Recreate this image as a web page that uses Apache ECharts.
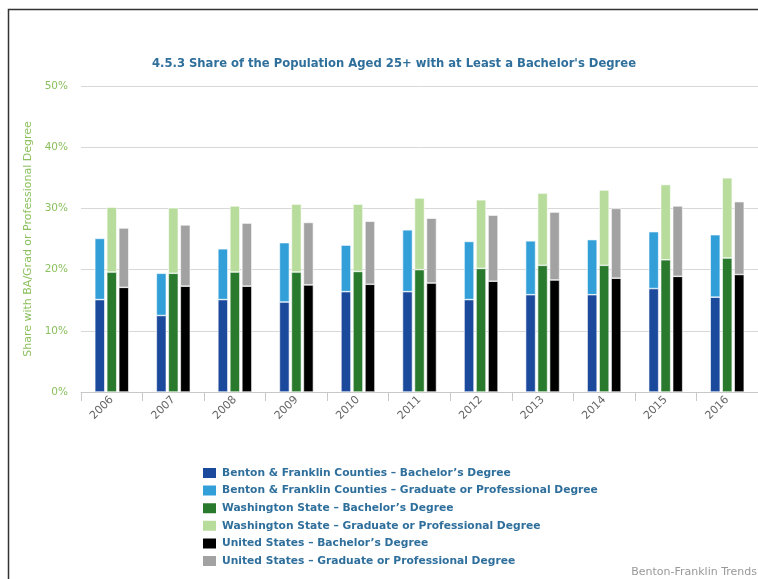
<!DOCTYPE html>
<html>
<head>
<meta charset="utf-8">
<script src="https://cdn.jsdelivr.net/npm/echarts@6/dist/echarts.min.js"></script>
<style>html,body{margin:0;padding:0;background:#fff}#c{width:758px;height:579px}</style>
</head>
<body>
<div id="c"></div>
<script>
var years = ['2006','2007','2008','2009','2010','2011','2012','2013','2014','2015','2016'];
var yTicks = [0, 10, 20, 30, 40, 50];
var bfBachelor = [15.1, 12.5, 15.1, 14.7, 16.4, 16.4, 15.1, 15.9, 15.9, 16.9, 15.5];
var bfGrad     = [10.0, 6.9, 8.3, 9.7, 7.6, 10.1, 9.5, 8.8, 9.0, 9.3, 10.2];
var waBachelor = [19.6, 19.4, 19.6, 19.6, 19.7, 20.0, 20.2, 20.7, 20.7, 21.6, 21.9];
var waGrad     = [10.6, 10.7, 10.8, 11.1, 11.0, 11.7, 11.2, 11.8, 12.3, 12.3, 13.1];
var usBachelor = [17.1, 17.3, 17.3, 17.5, 17.6, 17.8, 18.1, 18.3, 18.6, 18.9, 19.2];
var usGrad     = [9.7, 10.0, 10.3, 10.2, 10.3, 10.6, 10.8, 11.1, 11.4, 11.5, 11.9];
var seriesNames = [
  'Benton & Franklin Counties – Bachelor\u2019s Degree',
  'Benton & Franklin Counties – Graduate or Professional Degree',
  'Washington State – Bachelor\u2019s Degree',
  'Washington State – Graduate or Professional Degree',
  'United States – Bachelor\u2019s Degree',
  'United States – Graduate or Professional Degree'
];
var seriesColors = ['#1b4a9c', '#339fd9', '#2a7a2e', '#b8dc9c', '#000000', '#a2a2a2'];
var seriesData = [bfBachelor, bfGrad, waBachelor, waGrad, usBachelor, usGrad];
var stacks = ['bf', 'bf', 'wa', 'wa', 'us', 'us'];

var FONT = 'DejaVu Sans';
var chart = echarts.init(document.getElementById('c'), null, {renderer: 'canvas'});
var series = seriesData.map(function (d, i) {
  return {
    name: seriesNames[i],
    type: 'bar',
    stack: stacks[i],
    data: d,
    barWidth: 10,
    barGap: '20%',
    itemStyle: {color: seriesColors[i], borderColor: '#ffffff', borderWidth: 0.6},
    emphasis: {disabled: true}
  };
});
chart.setOption({
  animation: false,
  backgroundColor: '#ffffff',
  textStyle: {fontFamily: FONT},
  title: {
    text: '4.5.3 Share of the Population Aged 25+ with at Least a Bachelor\'s Degree',
    left: 389, textAlign: 'center', top: 53,
    textStyle: {fontFamily: FONT, fontSize: 11.6, fontWeight: 'bold', color: '#2f6f9c'}
  },
  grid: {left: 81, top: 86, width: 679, height: 306, containLabel: false},
  xAxis: {
    type: 'category',
    data: years,
    axisLine: {lineStyle: {color: '#c8c8c8', width: 1}},
    axisTick: {show: true, length: 9, lineStyle: {color: '#c8c8c8'}},
    axisLabel: {rotate: 45, margin: 6, fontSize: 11, color: '#666666', fontFamily: FONT}
  },
  yAxis: {
    type: 'value',
    min: yTicks[0], max: yTicks[yTicks.length - 1], interval: 10,
    name: 'Share with BA/Grad or Professional Degree',
    nameLocation: 'middle', nameGap: 44, nameRotate: 90,
    nameTextStyle: {color: '#8cc05e', fontSize: 11, fontFamily: FONT},
    axisLine: {show: false}, axisTick: {show: false},
    axisLabel: {formatter: '{value}%', color: '#8cc05e', fontSize: 10.5, margin: 13, fontFamily: FONT},
    splitLine: {lineStyle: {color: '#d8d8d8', width: 1}}
  },
  legend: {
    orient: 'vertical', left: 196, top: 461, height: 200,
    itemWidth: 15, itemHeight: 12, itemGap: 3.6,
    icon: 'rect',
    selectedMode: false,
    textStyle: {color: '#2f6f9c', fontSize: 10.7, fontWeight: 'bold', fontFamily: FONT, lineHeight: 12},
    data: seriesNames
  },
  graphic: [
    {type: 'rect', shape: {x: 8.5, y: 9.5, width: 800, height: 600}, style: {fill: 'none', stroke: '#333', lineWidth: 1.5}, silent: true},
    {type: 'text', right: 1, bottom: 1, style: {text: 'Benton-Franklin Trends', fill: '#999999', font: '11px "DejaVu Sans"'}, silent: true}
  ],
  series: series
});
</script>
</body>
</html>
